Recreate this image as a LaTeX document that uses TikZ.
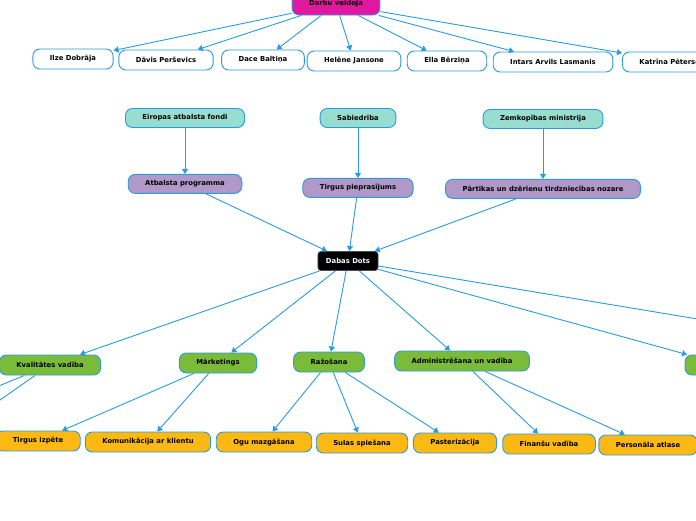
\documentclass[tikz,border=0pt]{standalone}
\usepackage{fontspec}
\setmainfont{DejaVu Sans}
\usepackage{xcolor}
\usepackage{tikz}
\usetikzlibrary{
    shapes,
    positioning,
    calc,
    arrows.meta
}
\definecolor{linkblue}{RGB}{41,155,222}
\definecolor{hotpink}{RGB}{224,24,160}
\definecolor{mint}{RGB}{152,222,208}
\definecolor{lilac}{RGB}{176,152,200}
\definecolor{leaf}{RGB}{122,188,58}
\definecolor{amber}{RGB}{253,185,19}
\tikzset{
  basic/.style = {
      draw=linkblue,
      line width=0.9pt,
      rectangle,
      rounded corners=7pt,
      font=\fontsize{6.85}{8}\selectfont\bfseries,
      inner xsep=17pt,
      inner ysep=0pt,
      minimum height=19pt,
      align=center
  },
  author/.style = {
      basic,
      fill=hotpink,
      minimum height=22pt
  },
  person/.style = {
      basic,
      fill=white,
      minimum height=20pt
  },
  source/.style = {
      basic,
      fill=mint
  },
  factor/.style = {
      basic,
      fill=lilac
  },
  core/.style = {
      basic,
      draw=black!70,
      fill=black,
      text=white,
      rounded corners=3pt,
      inner xsep=8pt
  },
  branch/.style = {
      basic,
      fill=leaf,
      minimum height=20pt
  },
  task/.style = {
      basic,
      fill=amber,
      minimum height=20pt
  },
  link/.style = {
      draw=linkblue,
      line width=0.9pt,
      -{Triangle[length=5pt,width=6pt]}
  }
}
\begin{document}
\begin{tikzpicture}[x=1pt, y=-1pt, node distance=47pt]
    \useasboundingbox (0,0) rectangle (696,520);
    % Authors
    \node[author] (darbu) at (336,4) {Darbu veidoja};
    \node[person] (ilze) at (73,59) {Ilze Dobrāja};
    \node[person] (davis) at (166,60) {Dāvis Perševics};
    \node[person] (dace) at (263,60) {Dace Baltiņa};
    \node[person] (helene) at (354,61) {Helēne Jansone};
    \node[person] (ella) at (447,61) {Ella Bērziņa};
    \node[person] (intars) at (553,62) {Intars Arvils Lasmanis};
    \node[person, anchor=west] (katrina) at (622,62) {Katrīna Pētersone};
    % Sources and factors
    \node[source] (eiropas) at (185,118) {Eiropas atbalsta fondi};
    \node[source] (sabiedriba) at (358,118) {Sabiedrība};
    \node[source] (zemkopiba) at (543,119) {Zemkopības ministrija};
    \node[factor, below=46pt of eiropas] (atbalsts) {Atbalsta programma};
    \node[factor, below=50pt of sabiedriba] (pieprasijums) {Tirgus pieprasījums};
    \node[factor, below=50pt of zemkopiba] (nozare) {Pārtikas un dzērienu tirdzniecības nozare};
    % Company
    \node[core] (dabas) at (348,261) {Dabas Dots};
    % Branches
    \node[branch] (kvalitate) at (50,365) {Kvalitātes vadība};
    \node[branch] (marketings) at (218,363) {Mārketings};
    \node[branch] (razosana) at (329,362) {Ražošana};
    \node[branch] (admin) at (462,361) {Administrēšana un vadība};
    \node[branch, minimum width=80pt] (rightbranch) at (725,365) {};
    \coordinate (offright) at (800,336);
    \coordinate (offleftA) at (-60,410);
    \coordinate (offleftB) at (-60,442);
    % Tasks
    \node[task] (izpete) at (38,441) {Tirgus izpēte};
    \node[task] (komunikacija) at (148,442) {Komunikācija ar klientu};
    \node[task] (mazgasana) at (264,442) {Ogu mazgāšana};
    \node[task] (spiesana) at (362,443) {Sulas spiešana};
    \node[task] (pasterizacija) at (455,443) {Pasterizācija};
    \node[task] (finanses) at (549,444) {Finanšu vadība};
    \node[task] (personals) at (648,445) {Personāla atlase};
    % Edges
    \foreach \p in {ilze,davis,dace,helene,ella,intars,katrina}
        \draw[link] (darbu) -- (\p);
    \draw[link] (eiropas) -- (atbalsts);
    \draw[link] (sabiedriba) -- (pieprasijums);
    \draw[link] (zemkopiba) -- (nozare);
    \foreach \f in {atbalsts,pieprasijums,nozare}
        \draw[link] (\f) -- (dabas);
    \foreach \b in {kvalitate,marketings,razosana,admin,rightbranch,offright}
        \draw[link] (dabas) -- (\b);
    \draw[link] (kvalitate) -- (offleftA);
    \draw[link] (kvalitate) -- (offleftB);
    \draw[link] (marketings) -- (izpete);
    \draw[link] (marketings) -- (komunikacija);
    \draw[link] (razosana) -- (mazgasana);
    \draw[link] (razosana) -- (spiesana);
    \draw[link] (razosana) -- (pasterizacija);
    \draw[link] (admin) -- (finanses);
    \draw[link] (admin) -- (personals);
\end{tikzpicture}
\end{document}
